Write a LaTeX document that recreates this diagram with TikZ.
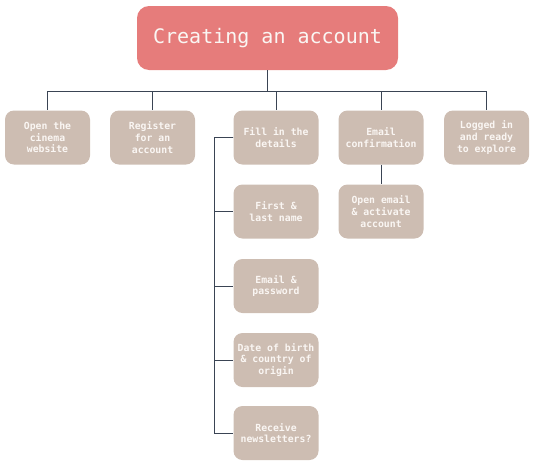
\documentclass[tikz,border=0pt]{standalone}
\usepackage{fontspec}
\setmonofont{DejaVu Sans Mono}
\usepackage{tikz}
\usetikzlibrary{positioning,calc}
\definecolor{flowRose}{RGB}{230,124,123}
\definecolor{flowTaupe}{RGB}{205,189,178}
\definecolor{flowSlate}{RGB}{58,68,84}
\definecolor{flowText}{RGB}{250,246,243}
\tikzset{
  rootbox/.style={rounded corners=12pt, fill=flowRose, text=flowText, align=center,
              minimum width=261pt, minimum height=64pt, font=\ttfamily\fontsize{20}{24}\selectfont},
  stepbox/.style={rounded corners=9pt, fill=flowTaupe, text=flowText, align=center,
              minimum width=85pt, minimum height=54pt, inner sep=2pt,
              font=\ttfamily\bfseries\fontsize{9.8}{11.8}\selectfont},
  link/.style={draw=flowSlate, line width=0.9pt}
}
\begin{document}
\begin{tikzpicture}[x=1pt, y=-1pt]
\useasboundingbox (0,0) rectangle (537,466);
\node[rootbox] (root) at (267.5,38) {Creating an account};
% first row
\node[stepbox] (open) at (47.5,137.5) {Open the\\cinema\\website};
\node[stepbox] (register) at (152.5,137.5) {Register\\for an\\account};
\node[stepbox] (fill) at (276,137.5) {Fill in the\\details};
\node[stepbox] (confirm) at (381,137.5) {Email\\confirmation};
\node[stepbox] (logged) at (486.5,137.5) {Logged in\\and ready\\to explore};
% details
\node[stepbox] (name) at (276,211.5) {First \&\\last name};
\node[stepbox] (emailpw) at (276,286) {Email \&\\password};
\node[stepbox] (birth) at (276,360) {Date of birth\\\& country of\\origin};
\node[stepbox] (news) at (276,433) {Receive\\newsletters?};
\node[stepbox] (activate) at (381,211.5) {Open email\\\& activate\\account};
% connectors
\foreach \n in {open,register,fill,confirm,logged}
  \draw[link] (root.south) -- ++(0,21) -| (\n.north);
\foreach \n in {name,emailpw,birth,news}
  \draw[link] (fill.west) -- ++(-19,0) |- (\n.west);
\draw[link] (confirm.south) -- (activate.north);
\end{tikzpicture}
\end{document}
